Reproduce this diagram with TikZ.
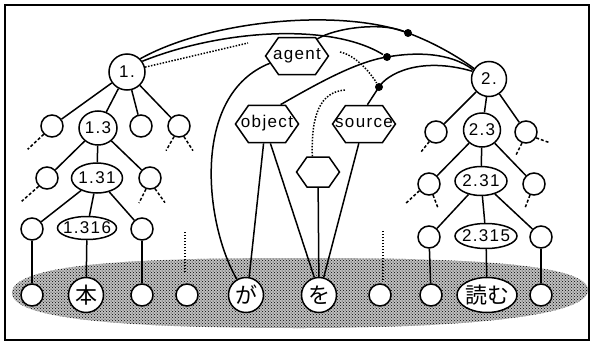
\documentclass[tikz,border=0pt]{standalone}
\usepackage{fontspec}
\setmainfont{Liberation Sans}[LetterSpace=8]
\newfontfamily\jp{Noto Sans CJK JP}
\usetikzlibrary{shapes.geometric,shapes.symbols,patterns}

\tikzset{
  bud/.style={circle,draw,fill=white,minimum size=22pt,inner sep=0pt},
  lab/.style={ellipse,draw,fill=white,inner xsep=-6pt,inner ysep=0pt,font=\fontsize{17}{19}\selectfont},
  word/.style={ellipse,draw,fill=white,inner xsep=-6pt,inner ysep=0pt,minimum width=35pt,minimum height=35pt,font=\jp\fontsize{22}{24}\selectfont},
  hexa/.style={signal,signal to=east and west,signal pointer angle=110,draw,fill=white,inner xsep=0pt,inner ysep=10pt,font=\fontsize{17}{19}\selectfont},
  junc/.style={circle,fill=black,minimum size=8pt,inner sep=0pt},
  stub/.style={dash pattern=on 3pt off 2pt},
  dotline/.style={dash pattern=on 1.5pt off 1.5pt},
}
\newcommand\hx[2][37pt]{\makebox[#1]{\rule[-5pt]{0pt}{17pt}#2}}

\begin{document}
\begin{tikzpicture}[x=1pt,y=-1pt,line width=1.5pt]
\useasboundingbox (0,0) rectangle (594,343);
\draw[line width=1.8pt] (5,5) rectangle (589,340);
\path[fill=black!25,postaction={pattern=crosshatch dots}] (12,293) .. controls (12,262) and (150,258) .. (300,258) .. controls (450,258) and (588,262) .. (588,290) .. controls (588,318) and (450,328) .. (300,328) .. controls (150,328) and (12,322) .. (12,293);

\node[lab,minimum size=36pt] (n1) at (127,72) {1.};
\node[bud] (a1) at (52,126) {};
\node[lab,minimum width=38pt,minimum height=34pt] (n13) at (98,128) {1.3};
\node[bud] (c1) at (141,126) {};
\node[bud] (d1) at (179,126) {};
\node[bud] (e1) at (47,178) {};
\node[lab,minimum width=51pt,minimum height=30pt] (n131) at (97,178) {1.31};
\node[bud] (f1) at (150,178) {};
\node[bud] (g1) at (32,229) {};
\node[lab,minimum width=59pt,minimum height=23pt] (n1316) at (87,228) {1.316};
\node[bud] (h1) at (142,229) {};

\node[lab,minimum size=35pt] (n2) at (489,79) {2.};
\node[bud] (a2) at (436,132) {};
\node[lab,minimum width=37pt,minimum height=34pt] (n23) at (482,130) {2.3};
\node[bud] (c2) at (526,132) {};
\node[bud] (d2) at (429,184) {};
\node[lab,minimum width=52pt,minimum height=29pt] (n231) at (481,181) {2.31};
\node[bud] (e2) at (534,184) {};
\node[bud] (f2) at (429,237) {};
\node[lab,minimum width=62pt,minimum height=25pt] (n2315) at (486,236) {2.315};
\node[bud] (g2) at (541,237) {};

\node[bud] (w1) at (32,295) {};
\node[word] (hon) at (86,295) {本};
\node[bud] (w3) at (142,295) {};
\node[bud] (w4) at (187,295) {};
\node[word] (ga) at (246,295) {が};
\node[word] (wo) at (319,295) {を};
\node[bud] (w7) at (380,295) {};
\node[bud] (w8) at (431,295) {};
\node[word,minimum width=60pt] (yomu) at (487,295) {読む};
\node[bud] (w10) at (541,295) {};

\node[hexa] (agent) at (297,56) {\hx{agent}};
\node[hexa] (object) at (267,124) {\hx{object}};
\node[hexa] (source) at (364,124) {\hx{source}};
\node[hexa,inner ysep=6.5pt] (emp) at (318,172) {\hx[22pt]{}};

\node[junc] (j1) at (408,33) {};
\node[junc] (j2) at (387,57) {};
\node[junc] (j3) at (379,87) {};
\coordinate (dl) at (248,43);
\coordinate (dr) at (340,52);
\coordinate (de) at (345,90);

\draw (n1) -- (a1);
\draw (n1) -- (n13);
\draw (n1) -- (c1);
\draw (n1) -- (d1);
\draw (n13) -- (e1);
\draw (n13) -- (n131);
\draw (n13) -- (f1);
\draw (n131) -- (g1);
\draw (n131) -- (n1316);
\draw (n131) -- (h1);
\draw (g1) -- (w1);
\draw (n1316) -- (hon);
\draw (h1) -- (w3);

\draw (n2) -- (a2);
\draw (n2) -- (n23);
\draw (n2) -- (c2);
\draw (n23) -- (d2);
\draw (n23) -- (n231);
\draw (n23) -- (e2);
\draw (n231) -- (f2);
\draw (n231) -- (n2315);
\draw (n231) -- (g2);
\draw (f2) -- (w8);
\draw (n2315) -- (yomu);
\draw (g2) -- (w10);

\draw[stub] (a1.225) -- ++(-16,15);
\draw[stub] (d1.245) -- ++(-8,14);
\draw[stub] (d1.295) -- ++(9,14);
\draw[stub] (e1.225) -- ++(-17,15);
\draw[stub] (f1.250) -- ++(-7,14);
\draw[stub] (f1.295) -- ++(10,14);
\draw[stub] (a2.235) -- ++(-8,10);
\draw[stub] (c2.250) -- ++(-6,12);
\draw[stub] (c2.330) -- ++(14,5);
\draw[stub] (d2.215) -- ++(-14,13);
\draw[stub] (d2.290) -- ++(5,13);
\draw[stub] (e2.250) -- ++(-5,13);
\draw[dotline] ([xshift=-2pt,yshift=11pt]w4.north) -- ++(0,-41);
\draw[dotline] ([xshift=3pt,yshift=3pt]w7.north) -- ++(0,-50);

\draw (agent.195) .. controls (190,95) and (205,225) .. (ga.120);
\draw (object.260) -- (ga.80);
\draw (object.280) -- (wo.105);
\draw (emp) -- (wo);
\draw (source.255) -- (wo.75);
\draw[dotline] (emp.110) .. controls (311,115) and (320,92) .. (de);

\draw (n1.45) .. controls (210,20) and (340,8) .. (j1.center) .. controls (435,43) and (460,58) .. (n2.145);
\draw (agent.40) .. controls (335,28) and (380,22) .. (j1);
\draw (n1.35) .. controls (220,30) and (330,22) .. (j2);
\draw (object.55) .. controls (315,85) and (355,62) .. (j2.center) .. controls (415,52) and (450,52) .. (n2.150);
\draw (source.80) -- (j3.center) .. controls (387,74) and (420,56) .. (n2.155);
\draw[dotline] (n1.15) -- (dl);
\draw[dotline] (dr) .. controls (355,55) and (370,72) .. (j3);
\end{tikzpicture}
\end{document}
